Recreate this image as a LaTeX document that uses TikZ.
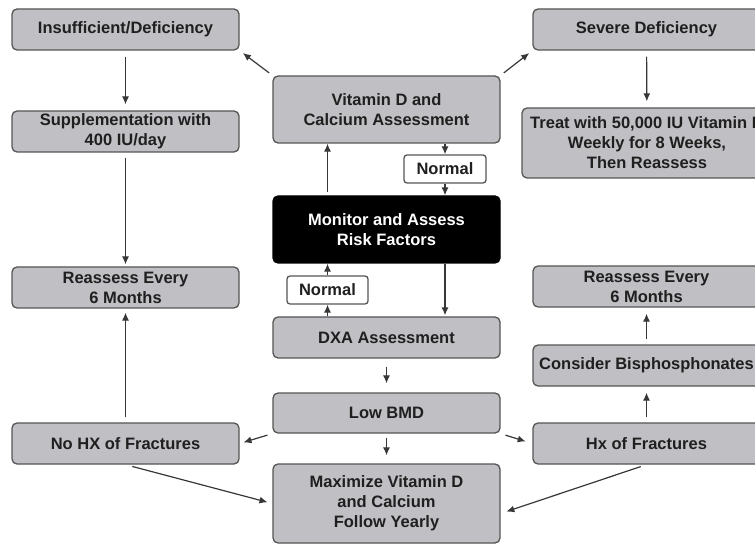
\documentclass[tikz,border=0pt]{standalone}
\usepackage{fontspec}
\setmainfont{Liberation Sans}
\usepackage{tikz}
\usetikzlibrary{arrows.meta, calc}

\definecolor{boxgray}{RGB}{192,192,196}
\definecolor{edgegray}{RGB}{85,85,85}
\definecolor{arrgray}{RGB}{55,55,55}

\tikzset{
    box/.style={draw=edgegray, fill=boxgray, line width=1.3pt, rounded corners=5pt,
        align=center, inner sep=2pt, font=\fontsize{16.5}{20}\selectfont\bfseries,
        text=black!88},
    darkbox/.style={box, fill=black, draw=black, text=white},
    tagbox/.style={box, fill=white, rounded corners=3pt},
    arr/.style={draw=arrgray, line width=1.2pt, -{Latex[length=8pt,width=7pt]}}
}

\begin{document}
\begin{tikzpicture}[x=1pt, y=-1pt]
            \clip (0,0) rectangle (755,545);
            % left column
            \node[box, minimum width=227pt, minimum height=41pt] (ins) at (125.5,29.5) {Insufficient/Deficiency};
            \node[box, minimum width=227pt, minimum height=41pt] (supp) at (125.5,131.5) {Supplementation with\\400 IU/day};
            \node[box, minimum width=227pt, minimum height=41pt] (reassessL) at (125.5,287.5) {Reassess Every\\6 Months};
            \node[box, minimum width=227pt, minimum height=41pt] (nohx) at (125.5,443.5) {No HX of Fractures};
            % middle column
            \node[box, minimum width=227pt, minimum height=67pt] (vit) at (386.5,109.5) {Vitamin D and\\Calcium Assessment};
            \node[tagbox, minimum width=82pt, minimum height=28pt] (normA) at (445,169) {Normal};
            \node[darkbox, minimum width=227pt, minimum height=67pt] (mon) at (386.5,229.5) {Monitor and Assess\\Risk Factors};
            \node[tagbox, minimum width=81pt, minimum height=28pt] (normB) at (327.5,290) {Normal};
            \node[box, minimum width=227pt, minimum height=41pt] (dxa) at (386.5,337.5) {DXA Assessment};
            \node[box, minimum width=227pt, minimum height=40pt] (low) at (386.5,413) {Low BMD};
            \node[box, minimum width=227pt, minimum height=79pt] (max) at (386.5,503.5) {Maximize Vitamin D\\and Calcium\\Follow Yearly};
            % right column
            \node[box, minimum width=227pt, minimum height=41pt] (sev) at (646.5,29.5) {Severe Deficiency};
            \node[box, minimum width=250pt, minimum height=70pt] (treat) at (647,143) {Treat with 50,000 IU Vitamin D\\Weekly for 8 Weeks,\\Then Reassess};
            \node[box, minimum width=227pt, minimum height=41pt] (reassessR) at (646.5,286.5) {Reassess Every\\6 Months};
            \node[box, minimum width=227pt, minimum height=41pt] (bis) at (646.5,365.5) {Consider Bisphosphonates};
            \node[box, minimum width=227pt, minimum height=41pt] (hx) at (646.5,443.5) {Hx of Fractures};

            \draw[arr, shorten <=4pt, shorten >=4pt] (vit.north west) -- (ins.south east);
            \draw[arr, shorten <=4pt, shorten >=4pt] (vit.north east) -- (sev.south west);
            \draw[arr, shorten <=6pt, shorten >=6pt] (ins) -- (supp);
            \draw[arr, shorten <=5pt, shorten >=2pt] (supp) -- (reassessL);
            \draw[arr, shorten <=5pt, shorten >=4pt] (nohx) -- (reassessL);
            \draw[arr] (vit.south -| normA) -- (normA);
            \draw[arr] (normA) -- (mon.north -| normA);
            \draw[arr, shorten <=3pt] (mon.north -| normB) -- (vit.south -| normB);
            \draw[arr] (dxa.north -| normB) -- (normB);
            \draw[arr] (normB) -- (mon.south -| normB);
            \draw[arr, shorten >=1pt] (mon.south -| normA) -- (dxa.north -| normA);
            \draw[arr, shorten <=8pt, shorten >=9pt] (dxa) -- (low);
            \draw[arr, shorten <=4pt, shorten >=8pt] (low) -- (max);
            \draw[arr, shorten <=5pt, shorten >=4pt] (low.south west) -- (nohx.east);
            \draw[arr, shorten <=5pt, shorten >=7pt] (low.south east) -- (hx.west);
            \draw[arr, shorten <=7pt, shorten >=5pt] (nohx.south) -- (max.west);
            \draw[arr, shorten <=6pt, shorten >=6pt] (hx.south) -- (max.-5);
            \draw[arr, shorten <=5pt, shorten >=6pt] (hx) -- (bis);
            \draw[arr, shorten <=5pt, shorten >=6pt] (bis) -- (reassessR);
            \draw[arr, shorten <=6pt, shorten >=6pt] (sev) -- (treat);
        \end{tikzpicture}
\end{document}
